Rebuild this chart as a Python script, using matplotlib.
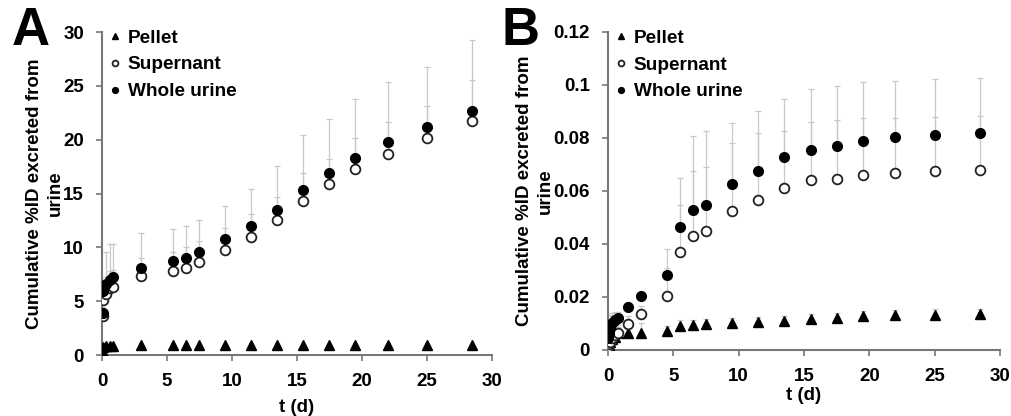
import matplotlib
matplotlib.use("Agg")
import matplotlib.pyplot as plt
import numpy as np

plt.rcParams['font.family'] = ['Liberation Sans', 'DejaVu Sans']
plt.rcParams['font.weight'] = 'bold'

# ---- panel A data ----
t_a = [0.04, 0.1, 0.33, 0.58, 0.83, 3, 5.5, 6.5, 7.5, 9.5, 11.5, 13.5, 15.5, 17.5, 19.5, 22, 25, 28.5]
whole_a = [3.9, 5.9, 6.6, 7.0, 7.2, 8.1, 8.7, 9.0, 9.6, 10.8, 12.0, 13.5, 15.3, 16.9, 18.3, 19.8, 21.2, 22.7]
super_a = [3.6, 5.1, 5.7, 6.2, 6.3, 7.3, 7.8, 8.1, 8.6, 9.8, 11.0, 12.5, 14.3, 15.9, 17.3, 18.7, 20.2, 21.7]
pellet_a = [0.3, 0.7, 0.8, 0.85, 0.85, 0.9, 0.9, 0.9, 0.9, 0.9, 0.9, 0.9, 0.9, 0.9, 0.9, 0.9, 0.9, 0.9]
whole_err_a = [0.6, 0.9, 3.0, 3.3, 3.1, 3.2, 3.0, 3.0, 2.9, 3.0, 3.4, 4.05, 5.1, 5.0, 5.5, 5.55, 5.55, 6.6]
super_err_a = [0.5, 0.8, 1.5, 1.6, 1.6, 1.7, 1.8, 1.9, 2.0, 2.0, 2.1, 2.2, 2.6, 2.3, 2.9, 2.9, 2.9, 3.8]
pellet_err_a = [0.05] * 18

# ---- panel B data ----
t_b = [0.02, 0.08, 0.17, 0.33, 0.5, 0.75, 1.5, 2.5, 4.5, 5.5, 6.5, 7.5, 9.5, 11.5, 13.5, 15.5, 17.5, 19.5, 22, 25, 28.5]
whole_b = [0.0044, 0.0065, 0.0082, 0.010, 0.0113, 0.0122, 0.0164, 0.0204, 0.0282, 0.0465, 0.0528, 0.0547,
           0.0627, 0.0677, 0.0727, 0.0756, 0.0769, 0.0789, 0.0802, 0.0812, 0.082]
super_b = [0.0013, 0.0021, 0.0031, 0.0046, 0.0055, 0.0063, 0.0097, 0.0135, 0.0204, 0.0369, 0.0432, 0.0448,
           0.0525, 0.0567, 0.0613, 0.064, 0.0646, 0.066, 0.0668, 0.0676, 0.068]
pellet_b = [0.001, 0.002, 0.003, 0.004, 0.005, 0.0065, 0.0065, 0.0065, 0.0072, 0.0092, 0.0094, 0.0098,
            0.010, 0.0106, 0.0109, 0.0116, 0.012, 0.0128, 0.0132, 0.0133, 0.0136]
whole_err_b = [0.003, 0.004, 0.005, 0.004, 0.003, 0.002, 0.0018, 0.0016, 0.0098, 0.0183, 0.028, 0.0278,
               0.0229, 0.0223, 0.0219, 0.0228, 0.0229, 0.0221, 0.0214, 0.0211, 0.0208]
super_err_b = [0.002, 0.002, 0.003, 0.003, 0.003, 0.003, 0.003, 0.003, 0.0106, 0.0179, 0.0244, 0.0242,
               0.0255, 0.0253, 0.0214, 0.0222, 0.022, 0.0214, 0.0208, 0.0204, 0.0203]
pellet_err_b = [0.001, 0.001, 0.001, 0.002, 0.002, 0.002, 0.002, 0.0035, 0.002, 0.002, 0.002, 0.002,
                0.002, 0.002, 0.002, 0.002, 0.002, 0.002, 0.002, 0.002, 0.002]

labels = ['Pellet', 'Supernant', 'Whole urine']
ylabel = 'Cumulative %ID excreted from\nurine'

fig = plt.figure(figsize=(10.11, 4.16), dpi=100)
axA = fig.add_axes([0.1009, 0.1466, 0.3857, 0.7764])
axB = fig.add_axes([0.6014, 0.1587, 0.3877, 0.7644])

errc = '#c8c8c8'
spc = '#777777'
fs = 13.5


def draw(ax, t, pel, sup, who, pe, se, we, ylim, yticks, yfmt):
    for y, e in [(pel, pe), (sup, se), (who, we)]:
        ax.errorbar(t, y, yerr=[np.zeros(len(e)), e], fmt='none', ecolor=errc,
                    elinewidth=0.9, capsize=2, capthick=0.9, zorder=1)
    ax.plot(t, pel, '^', color='black', ms=6.5, ls='none', label=labels[0], zorder=3)
    ax.plot(t, sup, 'o', mfc='white', mec='#222222', mew=1.3, ms=7, ls='none', label=labels[1], zorder=3)
    ax.plot(t, who, 'o', color='black', ms=7, ls='none', label=labels[2], zorder=4)
    ax.set_xlim(0, 30)
    ax.set_ylim(*ylim)
    ax.set_xticks([0, 5, 10, 15, 20, 25, 30])
    ax.set_yticks(yticks)
    ax.set_yticklabels([yfmt(v) for v in yticks])
    for s in ['top', 'right']:
        ax.spines[s].set_visible(False)
    for s in ['left', 'bottom']:
        ax.spines[s].set_color(spc)
        ax.spines[s].set_linewidth(1.5)
    ax.tick_params(axis='both', colors=spc, labelcolor='black', labelsize=fs, width=1.2, length=4)
    ax.tick_params(axis='x', pad=9)
    ax.tick_params(axis='y', pad=9)
    for lab in ax.get_xticklabels() + ax.get_yticklabels():
        lab.set_fontweight('bold')
    ax.set_xlabel('t (d)', fontsize=fs, fontweight='bold', labelpad=1)
    ax.set_ylabel(ylabel, fontsize=fs, fontweight='bold', linespacing=1.3)
    ax.legend(loc='upper left', bbox_to_anchor=(-0.015, 1.05), frameon=False, markerscale=0.6,
              handlelength=0.6, handletextpad=0.35, labelspacing=0.5, borderaxespad=0.3,
              prop={'size': 13.7, 'weight': 'bold'})


draw(axA, t_a, pellet_a, super_a, whole_a, pellet_err_a, super_err_a, whole_err_a,
     (0, 30), [0, 5, 10, 15, 20, 25, 30], lambda v: '%d' % v)
draw(axB, t_b, pellet_b, super_b, whole_b, pellet_err_b, super_err_b, whole_err_b,
     (0, 0.12), [0, 0.02, 0.04, 0.06, 0.08, 0.1, 0.12], lambda v: '0' if v == 0 else ('%g' % v))

axA.yaxis.set_label_coords(-0.097, 0.5)
axB.yaxis.set_label_coords(-0.138, 0.5)
axA.xaxis.set_label_coords(0.5, -0.135)
axB.xaxis.set_label_coords(0.5, -0.115)

fig.text(0.012, 0.985, 'A', fontsize=38, fontweight='bold', va='top', ha='left')
fig.text(0.496, 0.985, 'B', fontsize=38, fontweight='bold', va='top', ha='left')

fig.savefig('out.png', dpi=100)
